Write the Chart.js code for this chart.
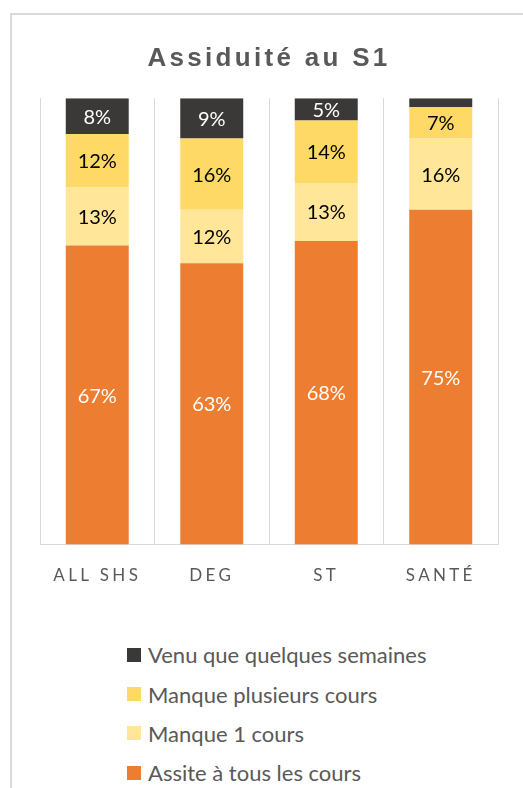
<!DOCTYPE html>
<html>
<head>
<meta charset="utf-8">
<script src="https://cdn.jsdelivr.net/npm/chart.js@4"></script>
<style>
  body { margin: 0; background: #fff; width: 523px; height: 788px; overflow: hidden; position: relative; }
  .frame { position: absolute; left: 10px; top: 13px; width: 700px; height: 900px; border: 2px solid #dadada; box-sizing: border-box; }
  #wrap { position: absolute; left: 0; top: 0; width: 523px; height: 610px; }
  #legend { position: absolute; left: 127px; top: 635px; font-family: Lato, sans-serif; font-size: 22px; color: #595959; }
  #legend .row { height: 39.4px; display: flex; align-items: center; }
  #legend .box { width: 14px; height: 14px; margin-right: 7px; }
</style>
</head>
<body>
<div class="frame"></div>
<div id="wrap"><canvas id="chart"></canvas></div>
<div id="legend"></div>
<script>
// categories and series (percent)
const categories = ["ALL SHS", "DEG", "ST", "SANTÉ"]
const assiste = [67, 63, 68, 75]
const manque1 = [13, 12, 13, 16]
const manquePlusieurs = [12, 16, 14, 7]
const venu = [8, 9, 5, 2]

const seriesNames = ["Assite à tous les cours", "Manque 1 cours", "Manque plusieurs cours", "Venu que quelques semaines"]
const seriesColors = ["#ED7D31", "#FFE699", "#FFD966", "#3B3838"]
const labelColors = ["#ffffff", "#000000", "#000000", "#ffffff"]

// letter spacing for title and ticks, off again for the bar labels
const spacing = {
	id: "spacing",
	beforeDraw: (chart) => { chart.ctx.letterSpacing = "3.3px" },
	beforeDatasetsDraw: (chart) => { chart.ctx.letterSpacing = "0px" }
}

// percent labels inside each segment
const barLabels = {
	id: "barLabels",
	afterDatasetsDraw: (chart) => {
		const ctx = chart.ctx
		ctx.save()
		ctx.font = "20px Lato, sans-serif"
		ctx.textAlign = "center"
		ctx.textBaseline = "middle"
		chart.data.datasets.forEach((ds, i) => {
			chart.getDatasetMeta(i).data.forEach((bar, j) => {
				const v = ds.data[j]
				if (v < 4) return
				ctx.fillStyle = labelColors[i]
				ctx.fillText(v + "%", bar.x, (bar.y + bar.base) / 2 + 1)
			})
		})
		ctx.restore()
	}
}

const values = [assiste, manque1, manquePlusieurs, venu]
const datasets = values.map((d, i) => ({
	label: seriesNames[i],
	data: d,
	backgroundColor: seriesColors[i],
	barPercentage: 0.55,
	categoryPercentage: 1
}))

const chart = new Chart(document.getElementById("chart"), {
	type: "bar",
	data: { labels: categories, datasets: datasets },
	options: {
		responsive: true,
		maintainAspectRatio: false,
		animation: false,
		layout: { padding: { left: 40, right: 25, top: 0, bottom: 3 } },
		plugins: {
			legend: { display: false },
			tooltip: { enabled: false },
			title: {
				display: true,
				text: "Assiduité au S1",
				color: "#595959",
				font: { family: "'Liberation Sans', Arial, sans-serif", size: 26, weight: "bold" },
				padding: { top: 43, bottom: 24 }
			}
		},
		scales: {
			x: {
				stacked: true,
				grid: { color: "#d9d9d9", drawTicks: false, offset: true },
				border: { color: "#d9d9d9" },
				ticks: { color: "#595959", font: { family: "Lato, sans-serif", size: 17 }, padding: 21 }
			},
			y: { stacked: true, display: false, min: 0, max: 100 }
		}
	},
	plugins: [spacing, barLabels]
})

// vertical legend, top item is the top segment
const legend = document.getElementById("legend")
seriesNames.slice().reverse().forEach((name, k) => {
	const i = seriesNames.length - 1 - k
	const row = document.createElement("div")
	row.className = "row"
	const box = document.createElement("span")
	box.className = "box"
	box.style.background = seriesColors[i]
	const txt = document.createElement("span")
	txt.innerText = name
	row.appendChild(box)
	row.appendChild(txt)
	legend.appendChild(row)
})
</script>
</body>
</html>
